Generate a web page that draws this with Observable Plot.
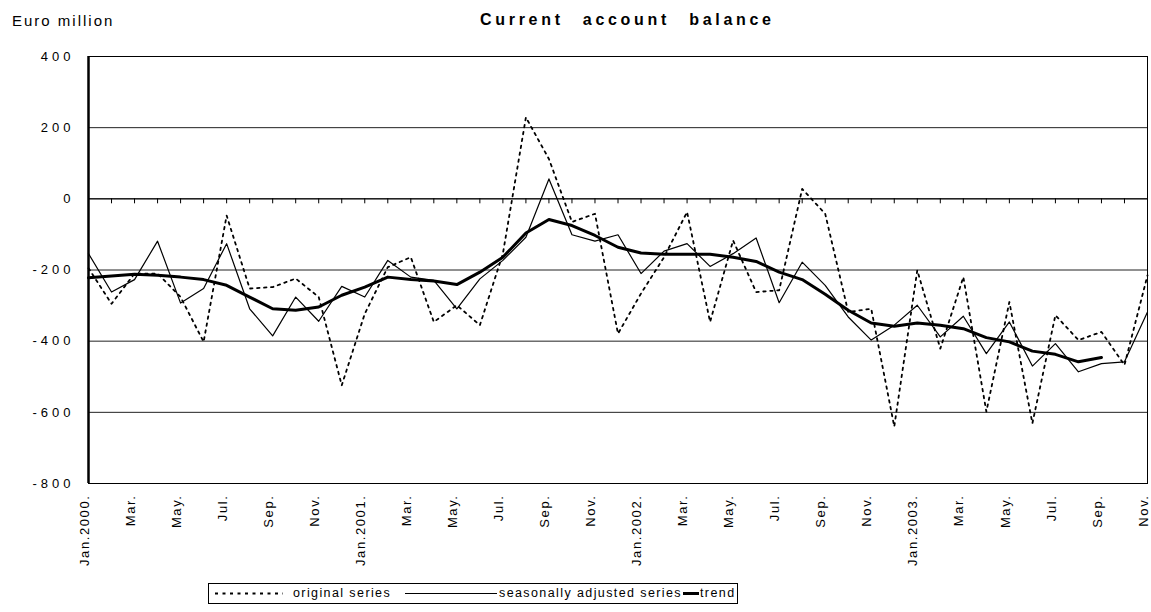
<!DOCTYPE html>
<html>
<head>
<meta charset="utf-8">
<script src="https://cdn.jsdelivr.net/npm/d3@7"></script>
<script src="https://cdn.jsdelivr.net/npm/@observablehq/plot@0.6"></script>
<style>
  body { margin: 0; background: #fff; font-family: "Liberation Sans", Arial, sans-serif; color: #000; }
  #wrap { position: relative; width: 1151px; height: 612px; overflow: hidden; background: #fff; }
  #chart { position: absolute; left: 0; top: 0; }
  .unit { position: absolute; left: 12px; top: 13px; font-size: 15px; line-height: 15px; letter-spacing: 2px; white-space: nowrap; }
  .title { position: absolute; left: 480px; top: 12px; font-size: 16px; line-height: 16px; font-weight: bold; letter-spacing: 3.7px; word-spacing: 11px; white-space: nowrap; }
  .legend { position: absolute; left: 208px; top: 583px; width: 528px; height: 19px; border: 1px solid #000; background: #fff; }
  .legend svg { position: absolute; top: 0; left: 0; }
  .legend span { position: absolute; top: 2px; font-size: 12.5px; line-height: 15px; letter-spacing: 1.4px; white-space: nowrap; }
  g[aria-label="y-axis tick label"] text { letter-spacing: 4px; }
  g[aria-label="x-axis tick label"] text { letter-spacing: 1.6px; }
</style>
</head>
<body>
<div id="wrap">
  <div id="chart"></div>
  <div class="unit">Euro million</div>
  <div class="title">Current account balance</div>
  <div class="legend" id="legend"></div>
</div>
<script>
// Month categories (Jan 2000 – Nov 2003)
const months = [
  "Jan.2000.","Feb.","Mar.","Apr.","May.","Jun.","Jul.","Aug.","Sep.","Oct.","Nov.","Dec.",
  "Jan.2001.","Feb.","Mar.","Apr.","May.","Jun.","Jul.","Aug.","Sep.","Oct.","Nov.","Dec.",
  "Jan.2002.","Feb.","Mar.","Apr.","May.","Jun.","Jul.","Aug.","Sep.","Oct.","Nov.","Dec.",
  "Jan.2003.","Feb.","Mar.","Apr.","May.","Jun.","Jul.","Aug.","Sep.","Oct.","Nov."
];

// Series values, euro million
const original = [
  -195, -295, -210, -210, -276, -402, -47, -252, -248, -224, -276, -524,
  -323, -192, -164, -346, -299, -355, -154, 229, 112, -65, -42, -379,
  -266, -164, -37, -346, -117, -262, -257, 28, -42, -318, -309, -640,
  -201, -421, -220, -598, -290, -631, -327, -397, -374, -467, -215
];
const seasonal = [
  -154, -262, -227, -119, -293, -252, -126, -309, -385, -276, -344, -246,
  -276, -173, -220, -229, -309, -225, -173, -108, 56, -101, -119, -101,
  -210, -147, -126, -190, -154, -110, -292, -178, -243, -332, -397, -355,
  -299, -388, -330, -435, -346, -470, -407, -486, -463, -458, -318
];
const trend = [
  -222, -217, -212, -215, -220, -227, -243, -276, -309, -313, -304, -271,
  -248, -220, -227, -231, -241, -206, -164, -96, -58, -75, -103, -136,
  -152, -156, -156, -156, -164, -176, -206, -227, -268, -313, -349, -358,
  -349, -355, -365, -390, -402, -428, -437, -458, -446
];

// Axis ticks
const yTicks = [-800, -600, -400, -200, 0, 200, 400];
const monthIdx = months.map((_, i) => i);
const labelIdx = monthIdx.filter(i => i % 2 === 0);

const origRows = original.map((v, i) => ({i, v}));
const saRows = seasonal.map((v, i) => ({i, v}));
const trendRows = trend.map((v, i) => ({i, v}));

const chart = Plot.plot({
  width: 1151,
  height: 580,
  marginTop: 56,
  marginBottom: 97,
  marginLeft: 88,
  marginRight: 4,
  style: { fontFamily: '"Liberation Sans", Arial, sans-serif', fontSize: "13px", color: "#000", background: "#fff", overflow: "visible" },
  x: { domain: [0, months.length - 1], axis: null },
  y: { domain: [-800, 400], axis: null, label: null },
  marks: [
    Plot.gridY(yTicks, { stroke: "#222", strokeOpacity: 1, strokeWidth: 1 }),
    Plot.frame({ stroke: "#000" }),
    Plot.ruleY([0], { stroke: "#000", strokeWidth: 1 }),
    Plot.ruleX(monthIdx, { x: d => d, y1: 0, y2: -14, stroke: "#000" }),
    Plot.ruleX([0], { stroke: "#000", strokeWidth: 2.5 }),
    Plot.axisY(yTicks, { tickSize: 0, tickPadding: 14, fontSize: 13, tickFormat: d => String(d), label: null }),
    Plot.axisX(labelIdx, { tickSize: 0, tickPadding: 11, tickRotate: -90, dx: -4, fontSize: 13, tickFormat: i => months[i], label: null }),
    Plot.line(origRows, { x: "i", y: "v", stroke: "#000", strokeWidth: 1.8, strokeDasharray: "2.5,4.5" }),
    Plot.line(saRows, { x: "i", y: "v", stroke: "#000", strokeWidth: 1.2 }),
    Plot.line(trendRows, { x: "i", y: "v", stroke: "#000", strokeWidth: 3, strokeLinejoin: "round" })
  ]
});
document.getElementById("chart").append(chart);

// Legend
const legendItems = [
  { label: "original series", x1: 6, x2: 74, text: 84, width: 1.8, dash: "3,4.5" },
  { label: "seasonally adjusted series", x1: 196, x2: 288, text: 290, width: 1.2, dash: null },
  { label: "trend", x1: 474, x2: 490, text: 491, width: 3, dash: null }
];
const legend = document.getElementById("legend");
const ns = "http://www.w3.org/2000/svg";
const svg = document.createElementNS(ns, "svg");
svg.setAttribute("width", 528);
svg.setAttribute("height", 19);
for (const it of legendItems) {
  const ln = document.createElementNS(ns, "line");
  ln.setAttribute("x1", it.x1); ln.setAttribute("x2", it.x2);
  ln.setAttribute("y1", 9.5); ln.setAttribute("y2", 9.5);
  ln.setAttribute("stroke", "#000");
  ln.setAttribute("stroke-width", it.width);
  if (it.dash) ln.setAttribute("stroke-dasharray", it.dash);
  svg.appendChild(ln);
}
legend.appendChild(svg);
for (const it of legendItems) {
  const s = document.createElement("span");
  s.textContent = it.label;
  s.style.left = it.text + "px";
  legend.appendChild(s);
}
</script>
</body>
</html>
